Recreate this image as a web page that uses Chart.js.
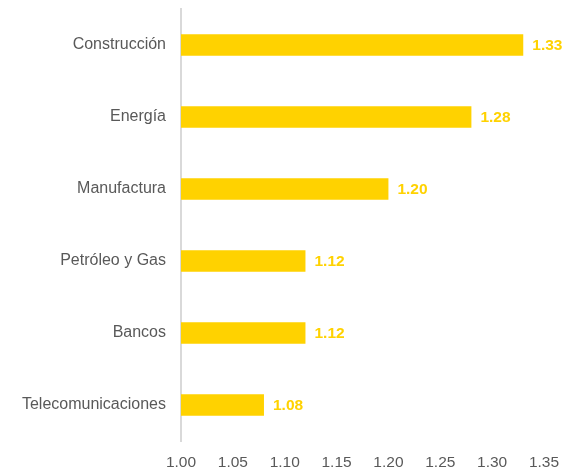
<!DOCTYPE html>
<html>
<head>
<meta charset="utf-8">
<script src="https://cdn.jsdelivr.net/npm/chart.js@4/dist/chart.umd.min.js"></script>
<style>
    html, body { margin: 0; padding: 0; background: #fff; }
    #wrap { width: 575px; height: 468px; }
</style>
</head>
<body>
<div id="wrap"><canvas id="sectores"></canvas></div>
<script>
var sectores = ["Construcción", "Energía", "Manufactura", "Petróleo y Gas", "Bancos", "Telecomunicaciones"]
var ratios = [1.33, 1.28, 1.20, 1.12, 1.12, 1.08]
var xTicks = [1.00, 1.05, 1.10, 1.15, 1.20, 1.25, 1.30, 1.35]

var gold = '#FFD200'
var grey = '#595959'
var fontFamily = '"Liberation Sans", Arial, sans-serif'

// writes the value to the right of each bar
var barValues = {
    id: 'barValues',
    afterDatasetsDraw(chart) {
        let ctx = chart.ctx
        let meta = chart.getDatasetMeta(0)
        ctx.save()
        ctx.font = 'bold 15.5px ' + fontFamily
        ctx.fillStyle = gold
        ctx.textBaseline = 'middle'
        ctx.textAlign = 'left'
        meta.data.forEach((bar, i) => {
            ctx.fillText(ratios[i].toFixed(2), bar.x + 9, bar.y + 1)
        })
        ctx.restore()
    }
}

new Chart(document.getElementById('sectores').getContext('2d'), {
    type: 'bar',
    data: {
        labels: sectores,
        datasets: [{
            data: ratios,
            backgroundColor: gold,
            barPercentage: 0.3,
            categoryPercentage: 1
        }]
    },
    options: {
        indexAxis: 'y',
        responsive: true,
        maintainAspectRatio: false,
        animation: false,
        layout: { padding: { top: 9, right: 31, bottom: 0, left: 0 } },
        plugins: { legend: { display: false }, tooltip: { enabled: false } },
        scales: {
            x: {
                min: 1.00,
                max: 1.35,
                afterBuildTicks: (scale) => {
                    scale.ticks = xTicks.map(v => ({ value: v }))
                },
                afterFit: (scale) => { scale.height = 27 },
                grid: { display: false, drawTicks: false },
                border: { display: false },
                ticks: {
                    padding: 12,
                    color: grey,
                    font: { family: fontFamily, size: 15.5 },
                    callback: (v) => Number(v).toFixed(2)
                }
            },
            y: {
                afterFit: (scale) => {
                    scale.width = 181
                    scale.paddingTop = 0
                    scale.paddingBottom = 0
                },
                grid: { display: false, drawTicks: false },
                border: { display: true, color: '#D9D9D9', width: 2 },
                ticks: {
                    padding: 15,
                    color: grey,
                    font: { family: fontFamily, size: 16 }
                }
            }
        }
    },
    plugins: [barValues]
})
</script>
</body>
</html>
